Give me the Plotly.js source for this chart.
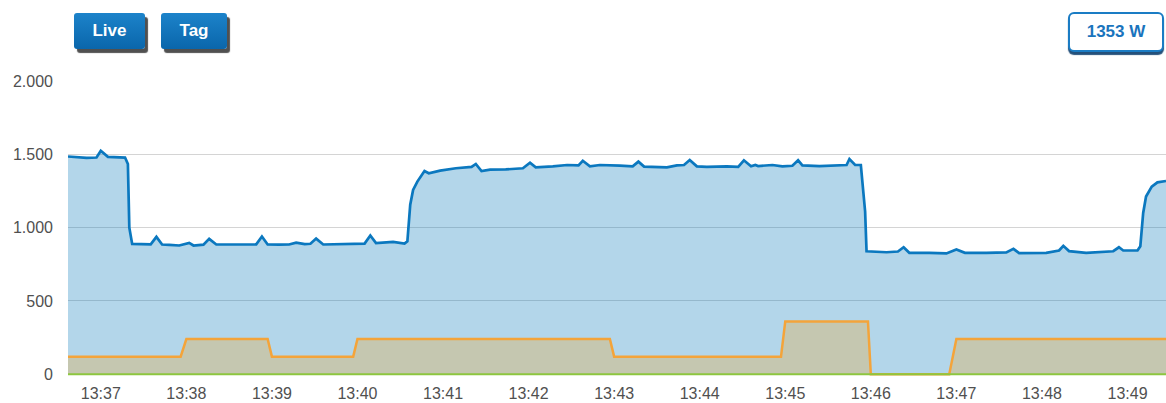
<!DOCTYPE html>
<html>
<head>
<meta charset="utf-8">
<script src="https://cdn.plot.ly/plotly-3.0.1.min.js"></script>
<style>
  html, body { margin:0; padding:0; background:#fff; }
  #wrap { position:relative; width:1166px; height:403px; overflow:hidden; }
  #chart { position:absolute; left:0; top:0; width:1166px; height:403px; }
  .btn { position:absolute; top:13px; height:36px; border-radius:3px;
         background:linear-gradient(#1c83ca, #0a66ab); color:#fff;
         font:bold 17px 'Liberation Sans', Arial, sans-serif;
         display:flex; align-items:center; justify-content:center;
         box-shadow:3px 4px 1px #505050; z-index:5; }
  #power { position:absolute; left:1068px; top:12px; width:92px; height:36px;
           border:2px solid #1a7cc4; border-radius:6px; background:#fff;
           color:#1a74bd; font:bold 17px 'Liberation Sans', Arial, sans-serif;
           display:flex; align-items:center; justify-content:center;
           box-shadow:0 3px 1px #24507a; z-index:5; }
</style>
</head>
<body>
<div id="wrap">
  <div id="chart"></div>
  <div class="btn" style="left:74px;width:71px;">Live</div>
  <div class="btn" style="left:161px;width:66px;">Tag</div>
  <div id="power">1353 W</div>
</div>
<script>
const day = '2024-01-01 ';

const blueTimes = ['13:36:37','13:36:50','13:36:57','13:37:00','13:37:05','13:37:10','13:37:17','13:37:19','13:37:20','13:37:22','13:37:31','13:37:35','13:37:39','13:37:43','13:37:48','13:37:55','13:38:02','13:38:05','13:38:12','13:38:16','13:38:21','13:38:30','13:38:41','13:38:49','13:38:53','13:38:57','13:39:05','13:39:12','13:39:17','13:39:23','13:39:27','13:39:31','13:39:36','13:39:44','13:39:55','13:40:05','13:40:09','13:40:13','13:40:25','13:40:33','13:40:35','13:40:37','13:40:39','13:40:42','13:40:47','13:40:50','13:40:58','13:41:09','13:41:20','13:41:23','13:41:27','13:41:33','13:41:44','13:41:56','13:42:01','13:42:05','13:42:17','13:42:27','13:42:35','13:42:38','13:42:43','13:42:50','13:43:04','13:43:13','13:43:17','13:43:21','13:43:37','13:43:44','13:43:49','13:43:53','13:43:58','13:44:05','13:44:19','13:44:27','13:44:31','13:44:36','13:44:39','13:44:41','13:44:51','13:44:58','13:45:05','13:45:09','13:45:12','13:45:24','13:45:43','13:45:45','13:45:49','13:45:53','13:45:56','13:45:57','13:46:11','13:46:19','13:46:23','13:46:27','13:46:41','13:46:53','13:47:00','13:47:06','13:47:21','13:47:35','13:47:40','13:47:44','13:48:03','13:48:12','13:48:15','13:48:19','13:48:31','13:48:50','13:48:54','13:48:57','13:49:07','13:49:09','13:49:11','13:49:13','13:49:17','13:49:21','13:49:27'];
const blueValues = [1485,1476,1478,1524,1483,1480,1478,1434,1000,889,884,886,937,885,882,878,896,878,884,923,885,884,887,886,939,885,884,885,898,887,890,925,885,886,891,891,946,894,903,891,907,1156,1257,1314,1386,1371,1389,1405,1414,1434,1386,1395,1397,1405,1443,1411,1418,1427,1425,1456,1418,1427,1423,1418,1450,1416,1411,1425,1427,1461,1418,1414,1418,1414,1459,1418,1427,1420,1427,1418,1422,1459,1425,1420,1427,1468,1427,1427,1110,839,832,837,866,828,828,824,851,828,828,831,855,826,828,844,876,840,828,839,866,844,844,873,1100,1212,1280,1309,1318];

const orangeTimes = ['13:36:37','13:37:56','13:38:00','13:38:57','13:39:00','13:39:57','13:40:00','13:42:57','13:43:00','13:44:57','13:45:00','13:45:58','13:46:00','13:46:55','13:47:00','13:49:27'];
const orangeValues = [120,120,240,240,120,120,240,240,120,120,360,360,0,0,240,240];

const greenTimes = ['13:36:37','13:49:27'];
const greenValues = [0,0];

const tickTimes = ['13:37','13:38','13:39','13:40','13:41','13:42','13:43','13:44','13:45','13:46','13:47','13:48','13:49'];
const yTicks = [0,500,1000,1500,2000];

const toX = arr => arr.map(t => day + t);

const traces = [
  { x: toX(blueTimes), y: blueValues, type:'scatter', mode:'lines', fill:'tozeroy',
    fillcolor:'rgba(11,123,187,0.31)', line:{color:'#0b78bf', width:2.7}, hoverinfo:'skip' },
  { x: toX(orangeTimes), y: orangeValues, type:'scatter', mode:'lines', fill:'tozeroy',
    fillcolor:'#c5c7b0', line:{color:'#f4a43a', width:2.5}, hoverinfo:'skip' },
  { x: toX(greenTimes), y: greenValues, type:'scatter', mode:'lines',
    line:{color:'#8dc63f', width:2}, hoverinfo:'skip' }
];

const layout = {
  width:1166, height:403,
  margin:{l:68, r:0, t:81, b:27},
  paper_bgcolor:'#fff', plot_bgcolor:'#fff',
  showlegend:false,
  separators:',.',
  font:{family:"'Liberation Sans', Arial, sans-serif", size:16, color:'#555'},
  xaxis:{ type:'date', range:[day+'13:36:37', day+'13:49:27'],
    tickvals: toX(tickTimes.map(t => t + ':00')), ticktext: tickTimes,
    showgrid:false, zeroline:false, showline:false, ticks:'',
    ticklabelstandoff:6, tickfont:{size:16, color:'#505050'} },
  yaxis:{ range:[-12, 2000], tickvals:yTicks, tickformat:',d',
    showgrid:true, gridcolor:'#d4d4d4', gridwidth:1, zeroline:false, showline:false,
    ticks:'', ticklabelstandoff:14, tickfont:{size:16, color:'#505050'} }
};

Plotly.newPlot('chart', traces, layout, {staticPlot:true, displayModeBar:false});
</script>
</body>
</html>
